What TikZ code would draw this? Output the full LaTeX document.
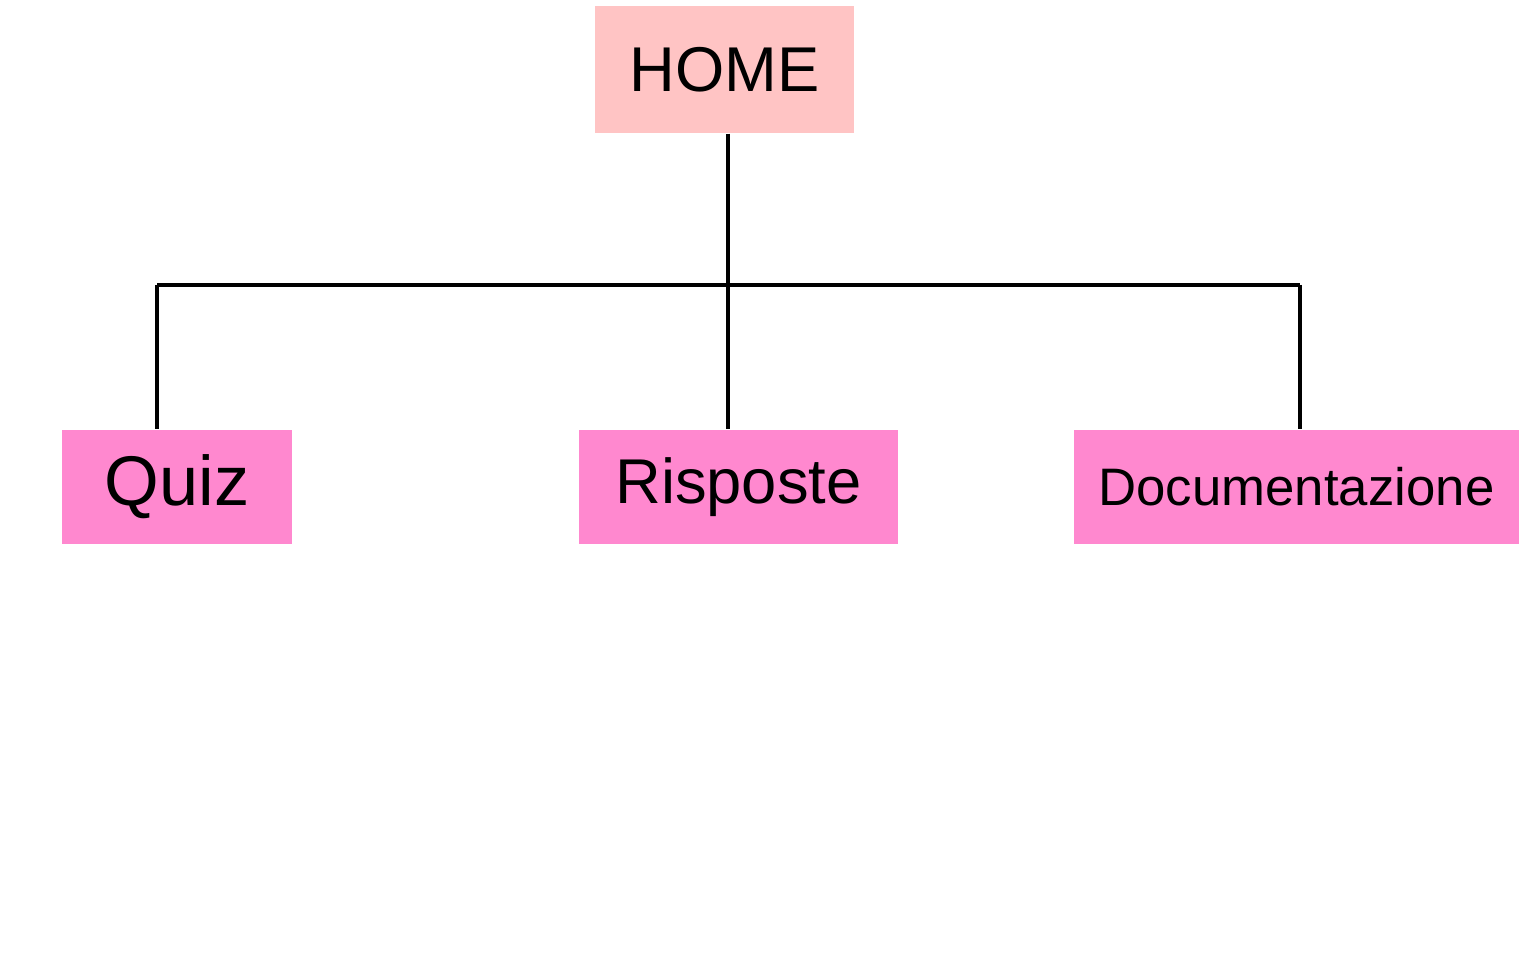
\documentclass[tikz,border=0pt]{standalone}
\usepackage{fontspec}
\setmainfont{Liberation Sans}
\usepackage{tikz}

\definecolor{homepink}{HTML}{FFC4C4}
\definecolor{pagepink}{HTML}{FF88CF}

\begin{document}
\begin{tikzpicture}[x=0.01cm,y=-0.01cm,
  homebox/.style={fill=homepink,inner sep=0pt,minimum width=2.59cm,minimum height=1.27cm,font=\fontsize{18}{22}\selectfont},
  pagebox/.style={fill=pagepink,inner sep=0pt,minimum height=1.14cm},
  link/.style={line width=0.9pt}]
\useasboundingbox (0,0) rectangle (1536,974);
\node[homebox] (home) at (724.5,69.5) {HOME};
\node[pagebox,minimum width=2.30cm,font=\fontsize{20}{24}\selectfont] (quiz) at (177,487) {Quiz};
\node[pagebox,minimum width=3.19cm,font=\fontsize{18}{22}\selectfont] (risposte) at (738.5,487) {Risposte};
\node[pagebox,minimum width=4.45cm,font=\fontsize{15}{18}\selectfont] (doc) at (1296.5,487) {Documentazione};
\coordinate (bl) at (157,285); \coordinate (bm) at (728,285); \coordinate (br) at (1300,285);
\draw [link] (bm |- home.south) -- (bm);
\draw [link] (bl) -- (br);
\draw [link] (bl) -- (bl |- quiz.north);
\draw [link] (bm) -- (bm |- risposte.north);
\draw [link] (br) -- (br |- doc.north);
\end{tikzpicture}
\end{document}
